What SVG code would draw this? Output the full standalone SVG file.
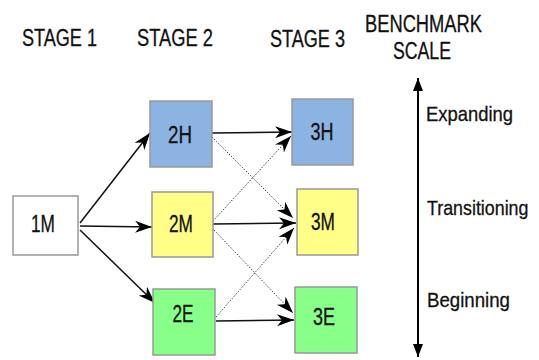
<svg xmlns="http://www.w3.org/2000/svg" width="539" height="360" viewBox="0 0 539 360">
<defs>
<style>
.t{font-family:"Liberation Sans",Arial,sans-serif;fill:#111;stroke:#111;stroke-width:0.3;}
.h{font-size:23px;}
.n{font-size:23px;text-anchor:middle;}
.s{font-size:21px;}
.box{stroke:#999;stroke-width:1.5;}
.c{fill:none;stroke:#111;stroke-width:1.5;marker-end:url(#st);}
.d{fill:none;stroke:#444;stroke-width:1;stroke-dasharray:1.5 1.5;marker-end:url(#st);}
</style>
<marker id="st" markerUnits="userSpaceOnUse" markerWidth="18" markerHeight="13" refX="17" refY="6" orient="auto" viewBox="0 0 18 13">
<path d="M0,0 L17,6 L0,12 L5,6 Z" fill="#000"/>
</marker>
<marker id="tri" markerUnits="userSpaceOnUse" markerWidth="14" markerHeight="11" refX="13" refY="5" orient="auto" viewBox="0 0 14 11">
<path d="M0,0 L13,5 L0,10 Z" fill="#000"/>
</marker>
</defs>
<rect width="539" height="360" fill="#fff"/>
<g id="headers">
<text class="t h" x="22" y="46" textLength="75" lengthAdjust="spacingAndGlyphs">STAGE 1</text>
<text class="t h" x="137" y="46" textLength="76" lengthAdjust="spacingAndGlyphs">STAGE 2</text>
<text class="t h" x="270" y="47" textLength="75" lengthAdjust="spacingAndGlyphs">STAGE 3</text>
<text class="t h" x="365" y="32" textLength="117" lengthAdjust="spacingAndGlyphs">BENCHMARK</text>
<text class="t h" x="393" y="59" textLength="58" lengthAdjust="spacingAndGlyphs">SCALE</text>
</g>
<g id="connectors">
<path class="c" d="M80,223 L150,133"/>
<path class="c" d="M80,226 L152,227"/>
<path class="c" d="M80,230 L155,303"/>
<path class="c" d="M212,133 L292,132"/>
<path class="d" d="M212,137 L293,218"/>
<path class="d" d="M213,221 L291,136"/>
<path class="c" d="M213,224 L296,223"/>
<path class="d" d="M214,230 L293,313"/>
<path class="d" d="M216,317 L294,228"/>
<path class="c" d="M216,321 L294,320"/>
</g>
<g id="n1M"><rect class="box" x="13" y="196" width="65" height="59" fill="#fff"/><text class="t n" x="43" y="232" textLength="24" lengthAdjust="spacingAndGlyphs">1M</text></g>
<g id="n2H"><rect class="box" x="150" y="101" width="62" height="66" fill="#8DB3E2"/><text class="t n" x="180" y="143" textLength="24" lengthAdjust="spacingAndGlyphs">2H</text></g>
<g id="n2M"><rect class="box" x="152" y="192" width="61" height="65" fill="#FFFF88"/><text class="t n" x="181" y="232" textLength="24" lengthAdjust="spacingAndGlyphs">2M</text></g>
<g id="n2E"><rect class="box" x="153" y="289" width="62" height="66" fill="#88FF88"/><text class="t n" x="183" y="322" textLength="21" lengthAdjust="spacingAndGlyphs">2E</text></g>
<g id="n3H"><rect class="box" x="292" y="99" width="61" height="66" fill="#8DB3E2"/><text class="t n" x="322" y="140" textLength="23" lengthAdjust="spacingAndGlyphs">3H</text></g>
<g id="n3M"><rect class="box" x="297" y="189" width="61" height="66" fill="#FFFF88"/><text class="t n" x="323" y="230" textLength="24" lengthAdjust="spacingAndGlyphs">3M</text></g>
<g id="n3E"><rect class="box" x="295" y="287" width="62" height="66" fill="#88FF88"/><text class="t n" x="324" y="325" textLength="22" lengthAdjust="spacingAndGlyphs">3E</text></g>
<g id="scale">
<path d="M418,300 L418,78" fill="none" stroke="#000" stroke-width="2" marker-end="url(#tri)"/>
<path d="M418,100 L418,357" fill="none" stroke="#000" stroke-width="2" marker-end="url(#tri)"/>
<text class="t s" x="426" y="121" textLength="87" lengthAdjust="spacingAndGlyphs">Expanding</text>
<text class="t s" transform="translate(427,215) scale(0.85,1)" x="0" y="0">Transitioning</text>
<text class="t s" x="427" y="307" textLength="83" lengthAdjust="spacingAndGlyphs">Beginning</text>
</g>
</svg>
